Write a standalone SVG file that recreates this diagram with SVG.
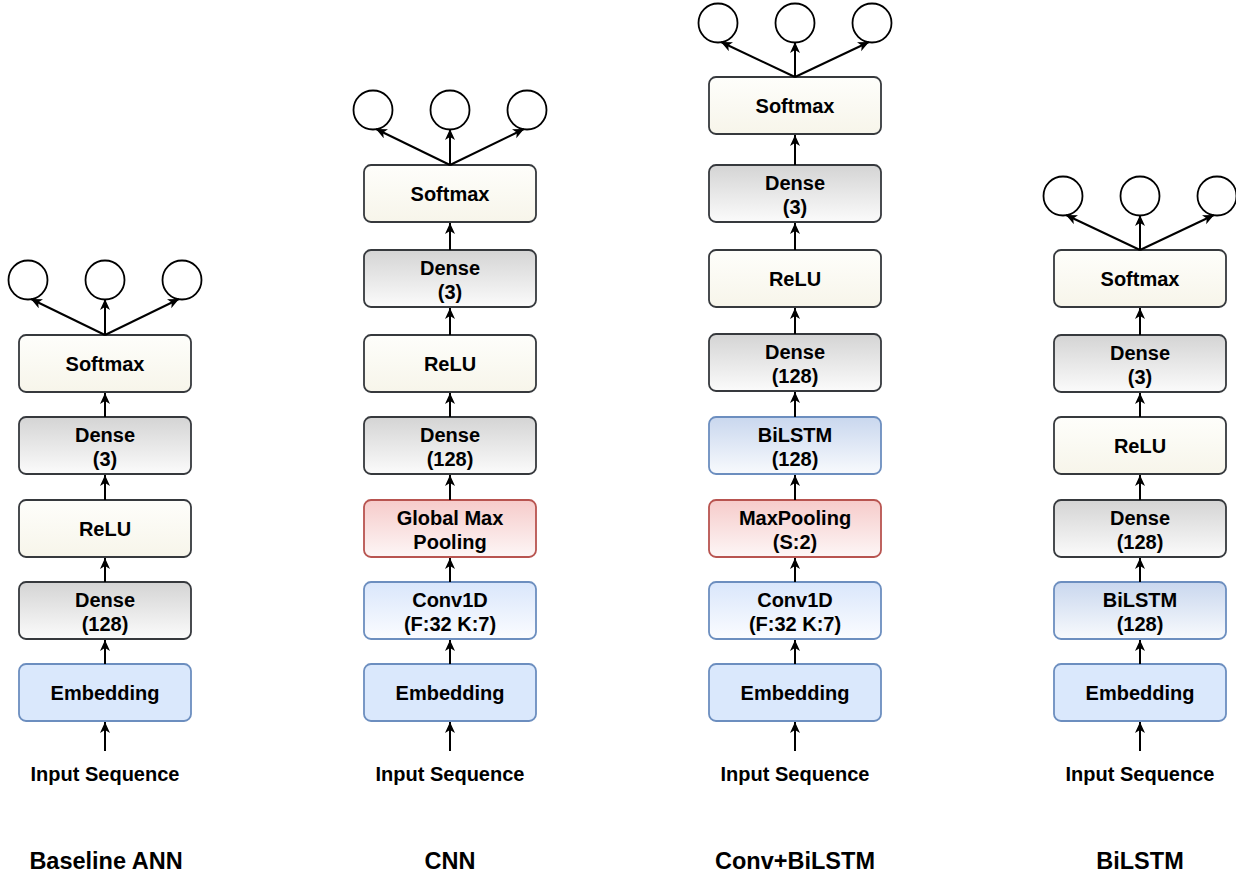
<svg xmlns="http://www.w3.org/2000/svg" width="1236" height="875" viewBox="0 0 1236 875">
<defs>
<linearGradient id="gCream" x1="0" y1="0" x2="0" y2="1"><stop offset="0" stop-color="#fefefb"/><stop offset="1" stop-color="#f7f5ea"/></linearGradient>
<linearGradient id="gGray" x1="0" y1="0" x2="0" y2="1"><stop offset="0" stop-color="#d4d4d4"/><stop offset="1" stop-color="#fbfbfb"/></linearGradient>
<linearGradient id="gBlue" x1="0" y1="0" x2="0" y2="1"><stop offset="0" stop-color="#d9e6fb"/><stop offset="1" stop-color="#fbfcff"/></linearGradient>
<linearGradient id="gBlue2" x1="0" y1="0" x2="0" y2="1"><stop offset="0" stop-color="#c9d7ee"/><stop offset="1" stop-color="#f8fafd"/></linearGradient>
<linearGradient id="gRed" x1="0" y1="0" x2="0" y2="1"><stop offset="0" stop-color="#f6cbca"/><stop offset="1" stop-color="#fdf6f6"/></linearGradient>
<marker id="arr" markerUnits="userSpaceOnUse" markerWidth="12" markerHeight="11" refX="11" refY="5" orient="auto" viewBox="0 0 12 11">
<path d="M0,0 L11,5 L0,10 L3,5 Z" fill="#000"/>
</marker>
<style>
.box{stroke-width:1.8;}
.cream{fill:url(#gCream);stroke:#36393d;}
.gray{fill:url(#gGray);stroke:#36393d;}
.blue{fill:url(#gBlue);stroke:#6c8ebf;}
.blue2{fill:url(#gBlue2);stroke:#6c8ebf;}
.emb{fill:#dae8fc;stroke:#6c8ebf;}
.red{fill:url(#gRed);stroke:#b85450;}
.circ{fill:#fff;stroke:#000;stroke-width:1.8;}
text{font-family:"Liberation Sans",Arial,Helvetica,sans-serif;font-weight:bold;fill:#000;text-anchor:middle;}
.lbl{font-size:20px;}
.title{font-size:23.5px;}
.conn line{stroke:#000;stroke-width:2;marker-end:url(#arr);}
</style>
</defs>
<rect width="1236" height="875" fill="#fff"/>

<!-- Column 1: Baseline ANN (c=105) -->
<g id="ann-emb"><rect class="box emb" x="19" y="664" width="172" height="57" rx="7"/><text class="lbl" x="105" y="700">Embedding</text></g>
<g id="ann-dense128"><rect class="box gray" x="19" y="582" width="172" height="57" rx="7"/><text class="lbl" x="105" y="607">Dense</text><text class="lbl" x="105" y="631">(128)</text></g>
<g id="ann-relu"><rect class="box cream" x="19" y="500" width="172" height="57" rx="7"/><text class="lbl" x="105" y="536">ReLU</text></g>
<g id="ann-dense3"><rect class="box gray" x="19" y="417" width="172" height="57" rx="7"/><text class="lbl" x="105" y="442">Dense</text><text class="lbl" x="105" y="466">(3)</text></g>
<g id="ann-softmax"><rect class="box cream" x="19" y="335" width="172" height="57" rx="7"/><text class="lbl" x="105" y="371">Softmax</text></g>
<g id="ann-out1"><circle class="circ" cx="28" cy="280" r="19.5"/></g>
<g id="ann-out2"><circle class="circ" cx="105" cy="280" r="19.5"/></g>
<g id="ann-out3"><circle class="circ" cx="182" cy="280" r="19.5"/></g>
<g id="ann-input"><text class="lbl" x="105" y="781">Input Sequence</text></g>
<g id="ann-title"><text class="title" x="106" y="869">Baseline ANN</text></g>

<!-- Column 2: CNN (c=450) -->
<g id="cnn-emb"><rect class="box emb" x="364" y="664" width="172" height="57" rx="7"/><text class="lbl" x="450" y="700">Embedding</text></g>
<g id="cnn-conv"><rect class="box blue" x="364" y="582" width="172" height="57" rx="7"/><text class="lbl" x="450" y="607">Conv1D</text><text class="lbl" x="450" y="631">(F:32 K:7)</text></g>
<g id="cnn-gmp"><rect class="box red" x="364" y="500" width="172" height="57" rx="7"/><text class="lbl" x="450" y="525">Global Max</text><text class="lbl" x="450" y="549">Pooling</text></g>
<g id="cnn-dense128"><rect class="box gray" x="364" y="417" width="172" height="57" rx="7"/><text class="lbl" x="450" y="442">Dense</text><text class="lbl" x="450" y="466">(128)</text></g>
<g id="cnn-relu"><rect class="box cream" x="364" y="335" width="172" height="57" rx="7"/><text class="lbl" x="450" y="371">ReLU</text></g>
<g id="cnn-dense3"><rect class="box gray" x="364" y="250" width="172" height="57" rx="7"/><text class="lbl" x="450" y="275">Dense</text><text class="lbl" x="450" y="299">(3)</text></g>
<g id="cnn-softmax"><rect class="box cream" x="364" y="165" width="172" height="57" rx="7"/><text class="lbl" x="450" y="201">Softmax</text></g>
<g id="cnn-out1"><circle class="circ" cx="373" cy="110" r="19.5"/></g>
<g id="cnn-out2"><circle class="circ" cx="450" cy="110" r="19.5"/></g>
<g id="cnn-out3"><circle class="circ" cx="527" cy="110" r="19.5"/></g>
<g id="cnn-input"><text class="lbl" x="450" y="781">Input Sequence</text></g>
<g id="cnn-title"><text class="title" x="450" y="869">CNN</text></g>

<!-- Column 3: Conv+BiLSTM (c=795) -->
<g id="cb-emb"><rect class="box emb" x="709" y="664" width="172" height="57" rx="7"/><text class="lbl" x="795" y="700">Embedding</text></g>
<g id="cb-conv"><rect class="box blue" x="709" y="582" width="172" height="57" rx="7"/><text class="lbl" x="795" y="607">Conv1D</text><text class="lbl" x="795" y="631">(F:32 K:7)</text></g>
<g id="cb-maxpool"><rect class="box red" x="709" y="500" width="172" height="57" rx="7"/><text class="lbl" x="795" y="525">MaxPooling</text><text class="lbl" x="795" y="549">(S:2)</text></g>
<g id="cb-bilstm"><rect class="box blue2" x="709" y="417" width="172" height="57" rx="7"/><text class="lbl" x="795" y="442">BiLSTM</text><text class="lbl" x="795" y="466">(128)</text></g>
<g id="cb-dense128"><rect class="box gray" x="709" y="334" width="172" height="57" rx="7"/><text class="lbl" x="795" y="359">Dense</text><text class="lbl" x="795" y="383">(128)</text></g>
<g id="cb-relu"><rect class="box cream" x="709" y="250" width="172" height="57" rx="7"/><text class="lbl" x="795" y="286">ReLU</text></g>
<g id="cb-dense3"><rect class="box gray" x="709" y="165" width="172" height="57" rx="7"/><text class="lbl" x="795" y="190">Dense</text><text class="lbl" x="795" y="214">(3)</text></g>
<g id="cb-softmax"><rect class="box cream" x="709" y="77" width="172" height="57" rx="7"/><text class="lbl" x="795" y="113">Softmax</text></g>
<g id="cb-out1"><circle class="circ" cx="718" cy="23" r="19.5"/></g>
<g id="cb-out2"><circle class="circ" cx="795" cy="23" r="19.5"/></g>
<g id="cb-out3"><circle class="circ" cx="872" cy="23" r="19.5"/></g>
<g id="cb-input"><text class="lbl" x="795" y="781">Input Sequence</text></g>
<g id="cb-title"><text class="title" x="795" y="869">Conv+BiLSTM</text></g>

<!-- Column 4: BiLSTM (c=1140) -->
<g id="bl-emb"><rect class="box emb" x="1054" y="664" width="172" height="57" rx="7"/><text class="lbl" x="1140" y="700">Embedding</text></g>
<g id="bl-bilstm"><rect class="box blue2" x="1054" y="582" width="172" height="57" rx="7"/><text class="lbl" x="1140" y="607">BiLSTM</text><text class="lbl" x="1140" y="631">(128)</text></g>
<g id="bl-dense128"><rect class="box gray" x="1054" y="500" width="172" height="57" rx="7"/><text class="lbl" x="1140" y="525">Dense</text><text class="lbl" x="1140" y="549">(128)</text></g>
<g id="bl-relu"><rect class="box cream" x="1054" y="417" width="172" height="57" rx="7"/><text class="lbl" x="1140" y="453">ReLU</text></g>
<g id="bl-dense3"><rect class="box gray" x="1054" y="335" width="172" height="57" rx="7"/><text class="lbl" x="1140" y="360">Dense</text><text class="lbl" x="1140" y="384">(3)</text></g>
<g id="bl-softmax"><rect class="box cream" x="1054" y="250" width="172" height="57" rx="7"/><text class="lbl" x="1140" y="286">Softmax</text></g>
<g id="bl-out1"><circle class="circ" cx="1063" cy="196" r="19.5"/></g>
<g id="bl-out2"><circle class="circ" cx="1140" cy="196" r="19.5"/></g>
<g id="bl-out3"><circle class="circ" cx="1217" cy="196" r="19.5"/></g>
<g id="bl-input"><text class="lbl" x="1140" y="781">Input Sequence</text></g>
<g id="bl-title"><text class="title" x="1140" y="869">BiLSTM</text></g>

<!-- Connectors -->
<g id="connectors" class="conn">
<line x1="105" y1="751" x2="105" y2="722"/>
<line x1="105" y1="664" x2="105" y2="640"/>
<line x1="105" y1="582" x2="105" y2="558"/>
<line x1="105" y1="500" x2="105" y2="475"/>
<line x1="105" y1="417" x2="105" y2="393"/>
<line x1="105" y1="335" x2="31" y2="299"/>
<line x1="105" y1="335" x2="105" y2="299"/>
<line x1="105" y1="335" x2="179" y2="299"/>

<line x1="450" y1="751" x2="450" y2="722"/>
<line x1="450" y1="664" x2="450" y2="640"/>
<line x1="450" y1="582" x2="450" y2="558"/>
<line x1="450" y1="500" x2="450" y2="475"/>
<line x1="450" y1="417" x2="450" y2="393"/>
<line x1="450" y1="335" x2="450" y2="308"/>
<line x1="450" y1="250" x2="450" y2="223"/>
<line x1="450" y1="165" x2="376" y2="129"/>
<line x1="450" y1="165" x2="450" y2="129"/>
<line x1="450" y1="165" x2="524" y2="129"/>

<line x1="795" y1="751" x2="795" y2="722"/>
<line x1="795" y1="664" x2="795" y2="640"/>
<line x1="795" y1="582" x2="795" y2="558"/>
<line x1="795" y1="500" x2="795" y2="475"/>
<line x1="795" y1="417" x2="795" y2="392"/>
<line x1="795" y1="334" x2="795" y2="308"/>
<line x1="795" y1="250" x2="795" y2="223"/>
<line x1="795" y1="165" x2="795" y2="135"/>
<line x1="795" y1="77" x2="721" y2="42"/>
<line x1="795" y1="77" x2="795" y2="42"/>
<line x1="795" y1="77" x2="869" y2="42"/>

<line x1="1140" y1="751" x2="1140" y2="722"/>
<line x1="1140" y1="664" x2="1140" y2="640"/>
<line x1="1140" y1="582" x2="1140" y2="558"/>
<line x1="1140" y1="500" x2="1140" y2="475"/>
<line x1="1140" y1="417" x2="1140" y2="393"/>
<line x1="1140" y1="335" x2="1140" y2="308"/>
<line x1="1140" y1="250" x2="1066" y2="215"/>
<line x1="1140" y1="250" x2="1140" y2="215"/>
<line x1="1140" y1="250" x2="1214" y2="215"/>
</g>
</svg>
